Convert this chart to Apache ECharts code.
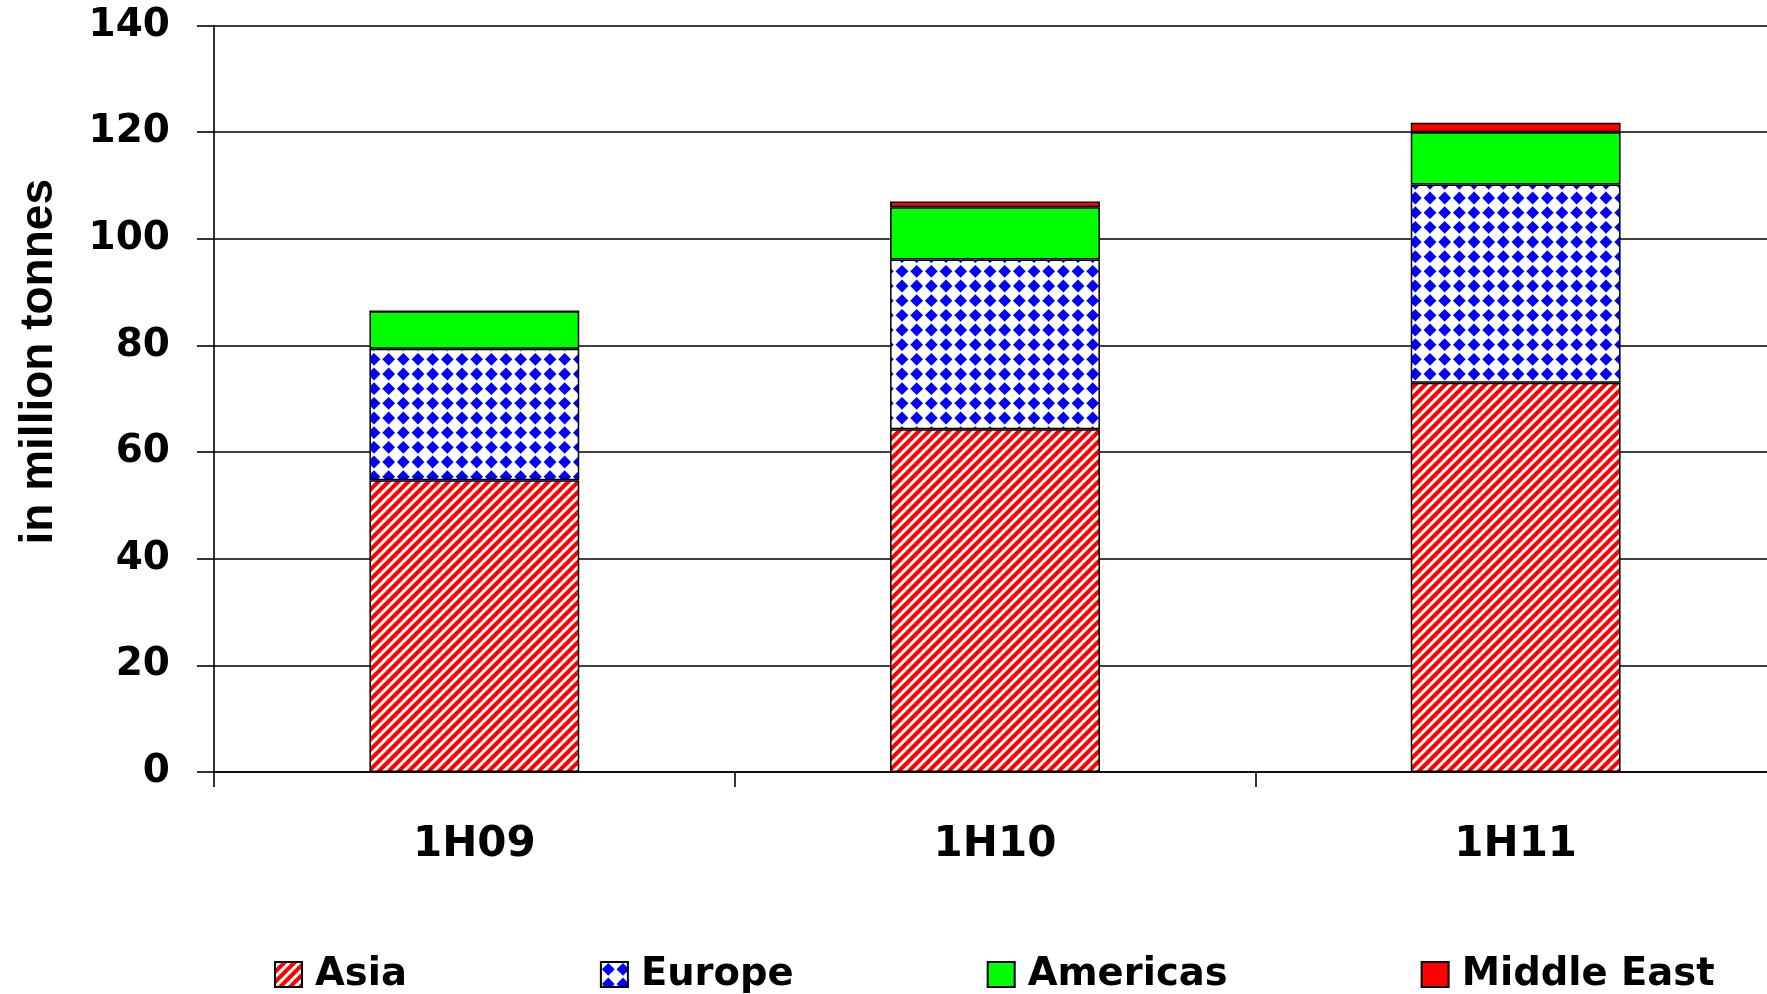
<!DOCTYPE html>
<html>
<head>
<meta charset="utf-8">
<script src="https://cdn.jsdelivr.net/npm/echarts@6/dist/echarts.min.js"></script>
<style>
  html, body { margin: 0; padding: 0; background: #fff; }
  #chart { width: 1767px; height: 994px; }
</style>
</head>
<body>
<div id="chart"></div>
<script>
// Half-year volumes by region, in million tonnes
const categories = ['1H09', '1H10', '1H11'];
const asia       = [54.7, 64.3, 73.0];
const europe     = [24.7, 31.8, 37.2];
const americas   = [7.0, 9.8, 9.8];
const middleEast = [0, 1.1, 1.75];
const seriesNames = ['Asia', 'Europe', 'Americas', 'Middle East'];
const yMin = 0, yMax = 140, yStep = 20;

// Red diagonal hatching on white
function stripeTile() {
  const c = document.createElement('canvas');
  c.width = 10; c.height = 10;
  const g = c.getContext('2d');
  g.fillStyle = '#ffffff';
  g.fillRect(0, 0, 10, 10);
  g.strokeStyle = '#ff0000';
  g.lineWidth = 4.1;
  g.beginPath();
  for (let k = -1; k <= 1; k++) {
    g.moveTo(-5 + k * 10, 15);
    g.lineTo(15 + k * 10, -5);
  }
  g.stroke();
  return c;
}

// Blue diamonds on white
function diamondTile() {
  const size = 44, n = 3, step = size / n, r = 6.4;
  const c = document.createElement('canvas');
  c.width = size; c.height = size;
  const g = c.getContext('2d');
  g.fillStyle = '#ffffff';
  g.fillRect(0, 0, size, size);
  g.fillStyle = '#0000ff';
  for (let i = 0; i < n; i++) {
    for (let j = 0; j < n; j++) {
      const cx = step * (i + 0.5), cy = step * (j + 0.5);
      g.beginPath();
      g.moveTo(cx, cy - r);
      g.lineTo(cx + r, cy);
      g.lineTo(cx, cy + r);
      g.lineTo(cx - r, cy);
      g.closePath();
      g.fill();
    }
  }
  return c;
}

const chart = echarts.init(document.getElementById('chart'), null, { renderer: 'canvas' });

const edge = { borderColor: '#000000', borderWidth: 1.5 };
const labelFont = 'DejaVu Sans';

chart.setOption({
  animation: false,
  backgroundColor: '#ffffff',
  grid: {
    left: 214, top: 25.5, right: -9, bottom: 222,
    containLabel: false, outerBoundsMode: 'none'
  },
  legend: {
    data: seriesNames,
    left: 274, top: 955,
    padding: 0,
    icon: 'rect',
    itemWidth: 27, itemHeight: 25, itemGap: 193,
    textStyle: {
      fontFamily: labelFont, fontWeight: 'bold', fontSize: 38.5, color: '#000',
      padding: [0, 0, 0, 8]
    }
  },
  xAxis: {
    type: 'category',
    data: categories,
    boundaryGap: true,
    axisLine: { show: true, lineStyle: { color: '#000', width: 1.6 } },
    axisTick: { show: true, inside: false, length: 15, alignWithLabel: false,
                lineStyle: { color: '#000', width: 1.6 } },
    axisLabel: { fontFamily: labelFont, fontWeight: 'bold', fontSize: 42,
                 color: '#000', margin: 52 },
    splitLine: { show: false }
  },
  yAxis: {
    type: 'value',
    min: yMin, max: yMax, interval: yStep,
    name: 'in million tonnes',
    nameLocation: 'middle',
    nameGap: 152,
    nameTextStyle: { fontFamily: 'Liberation Sans', fontWeight: 'bold', fontSize: 46,
                     color: '#000', padding: [0, 0, 0, 74] },
    axisLine: { show: true, lineStyle: { color: '#000', width: 1.6 } },
    axisTick: { show: true, inside: false, length: 17,
                lineStyle: { color: '#000', width: 1.6 } },
    axisLabel: { fontFamily: labelFont, fontWeight: 'bold', fontSize: 39,
                 color: '#000', margin: 44, padding: [5, 0, 0, 0] },
    splitLine: { show: true, lineStyle: { color: '#000', width: 1.6 } }
  },
  series: [
    { name: 'Asia', type: 'bar', stack: 'total', data: asia, barCategoryGap: '59.7%',
      itemStyle: Object.assign({ color: { image: stripeTile(), repeat: 'repeat' } }, edge) },
    { name: 'Europe', type: 'bar', stack: 'total', data: europe,
      itemStyle: Object.assign({ color: { image: diamondTile(), repeat: 'repeat' } }, edge) },
    { name: 'Americas', type: 'bar', stack: 'total', data: americas,
      itemStyle: Object.assign({ color: '#00ff00' }, edge) },
    { name: 'Middle East', type: 'bar', stack: 'total', data: middleEast,
      itemStyle: Object.assign({ color: '#ff0000' }, edge) }
  ]
});
</script>
</body>
</html>
